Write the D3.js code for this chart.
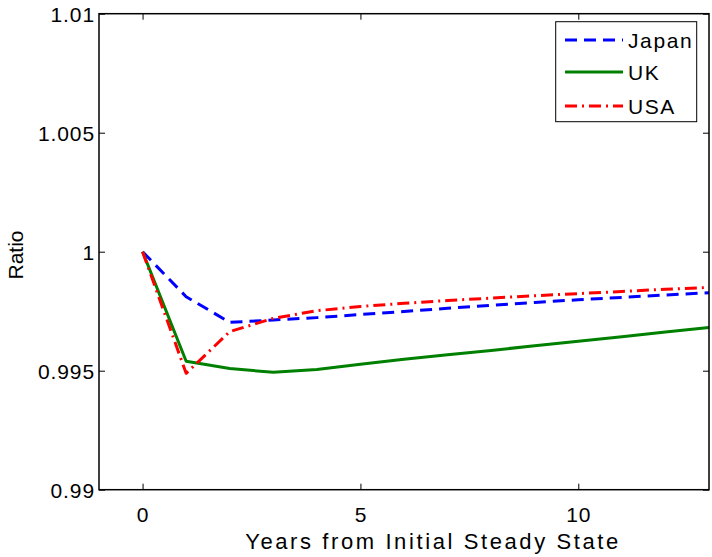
<!DOCTYPE html>
<html><head><meta charset="utf-8">
<script src="https://cdn.jsdelivr.net/npm/d3@7/dist/d3.min.js"></script>
<style>body{margin:0;background:#fff}svg{display:block}text{font-family:"Liberation Sans",Arial,sans-serif;fill:#000}</style>
</head><body><div id="chart"></div>
<script>
const years = [0,1,2,3,4,5,6,7,8,9,10,11,12,13];
const japan = [1.0,0.99811,0.99703,0.99713,0.99723,0.99736,0.99749,0.99762,0.99775,0.99787,0.99798,0.99808,0.99818,0.99828];
const uk    = [1.0,0.99540,0.99509,0.99493,0.99505,0.99527,0.99548,0.99567,0.99585,0.99605,0.99624,0.99643,0.99663,0.99682];
const usa   = [1.0,0.99489,0.99664,0.99720,0.99752,0.99770,0.99783,0.99795,0.99805,0.99815,0.99824,0.99833,0.99842,0.99850];
const seriesNames = ["Japan","UK","USA"];
const xTicks = [0,5,10];
const yTicks = [0.99,0.995,1,1.005,1.01];
const yTickLabels = ["0.99","0.995","1","1.005","1.01"];

const W=712,H=557;
const L=99,R=709,T=13.7,B=489.7;
const svg=d3.select("#chart").append("svg").attr("width",W).attr("height",H);
const x=d3.scaleLinear().domain([-1,13]).range([L,R]);
const y=d3.scaleLinear().domain([0.99,1.01]).range([B,T]);

svg.append("defs").append("clipPath").attr("id","clip").append("rect")
  .attr("x",L).attr("y",T).attr("width",R-L).attr("height",B-T);

const styles=[
  {data:japan,color:"#0000ff",dash:"12,7"},
  {data:uk,color:"#008000",dash:null},
  {data:usa,color:"#ff0000",dash:"12,5,2,5"}
];
const line=d3.line().x((d,i)=>x(years[i])).y(d=>y(d));
const g=svg.append("g").attr("clip-path","url(#clip)");
styles.forEach(s=>{
  g.append("path").attr("d",line(s.data)).attr("fill","none")
   .attr("stroke",s.color).attr("stroke-width",3)
   .attr("stroke-dasharray",s.dash).attr("stroke-linejoin","round").attr("stroke-linecap","butt");
});

// axes
const fs=21;
const ax=svg.append("g").attr("transform",`translate(0,${B})`)
  .call(d3.axisBottom(x).tickValues(xTicks).tickSize(-6).tickPadding(17).tickFormat(d3.format("d")));
const axT=svg.append("g").attr("transform",`translate(0,${T})`)
  .call(d3.axisTop(x).tickValues(xTicks).tickSize(-6).tickFormat(""));
const ay=svg.append("g").attr("transform",`translate(${L},0)`)
  .call(d3.axisLeft(y).tickValues(yTicks).tickSize(-6).tickPadding(4).tickFormat((d,i)=>yTickLabels[i]));
const ayR=svg.append("g").attr("transform",`translate(${R},0)`)
  .call(d3.axisRight(y).tickValues(yTicks).tickSize(-6).tickFormat(""));
[ax,axT,ay,ayR].forEach(a=>{
  a.select(".domain").remove();
  a.selectAll("line").attr("stroke","#000").attr("stroke-width",1);
  a.selectAll("text").attr("font-size",fs).attr("font-family","Liberation Sans, Arial, sans-serif").attr("letter-spacing","0.9px");
});
ay.selectAll("text").attr("dy","0.38em");
svg.append("rect").attr("x",L).attr("y",T).attr("width",R-L).attr("height",B-T)
  .attr("fill","none").attr("stroke","#000").attr("stroke-width",1.5);

svg.append("text").attr("x",433).attr("y",548.5).attr("text-anchor","middle")
  .attr("font-size",22).attr("letter-spacing","2.6px").text("Years from Initial Steady State");
svg.append("text").attr("transform","translate(23,255) rotate(-90)").attr("text-anchor","middle")
  .attr("font-size",fs).text("Ratio");

// legend
const lg=svg.append("g");
lg.append("rect").attr("x",555.7).attr("y",21.7).attr("width",141).attr("height",100)
  .attr("fill","#fff").attr("stroke","#000").attr("stroke-width",1);
const ly=[40,72,106];
styles.forEach((s,i)=>{
  lg.append("line").attr("x1",565).attr("x2",623).attr("y1",ly[i]).attr("y2",ly[i])
    .attr("stroke",s.color).attr("stroke-width",3).attr("stroke-dasharray",s.dash);
  lg.append("text").attr("x",628).attr("y",ly[i]+7.5).attr("font-size",fs)
    .attr("letter-spacing","1.6px").text(seriesNames[i]);
});
</script></body></html>
